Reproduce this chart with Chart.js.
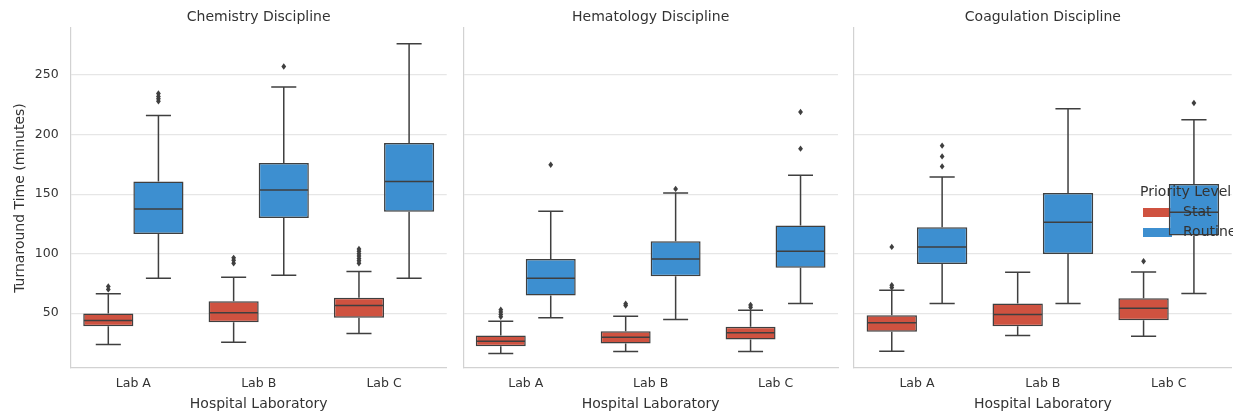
<!DOCTYPE html>
<html>
<head>
<meta charset="utf-8">
<script src="https://cdn.jsdelivr.net/npm/chart.js@4"></script>
<style>
  html, body { margin: 0; padding: 0; background: #ffffff; }
  body { width: 1235px; height: 417px; position: relative; overflow: hidden; }
  .facet { position: absolute; top: 0; height: 417px; }
</style>
</head>
<body>
<div class="facet" id="f1" style="left:0px;width:448px;"><canvas id="c1"></canvas></div>
<div class="facet" id="f2" style="left:462px;width:377px;"><canvas id="c2"></canvas></div>
<div class="facet" id="f3" style="left:853px;width:380px;"><canvas id="c3"></canvas></div>
<script>
// ---------------- DATA ----------------
const labs = ['Lab A', 'Lab B', 'Lab C'];
const disciplines = ['Chemistry Discipline', 'Hematology Discipline', 'Coagulation Discipline'];
const priorities = ['Stat', 'Routine'];
const yTicks = [50, 100, 150, 200, 250];

// five-number summaries per lab: [whisker low, Q1, median, Q3, whisker high]
const chemStat    = [[23.7, 39.1, 43.9, 49.7, 66.3], [25.7, 42.4, 50.3, 60.1, 80.2], [33.0, 46.1, 56.5, 62.9, 85.0]];
const chemRoutine = [[79.4, 116.6, 137.6, 160.7, 216.1], [81.9, 130.0, 153.5, 176.2, 240.0], [79.4, 135.1, 160.7, 193.0, 276.3]];
const hemStat     = [[16.2, 22.3, 26.5, 31.3, 43.3], [17.9, 24.6, 29.9, 34.9, 47.5], [17.9, 27.9, 33.6, 38.6, 52.5]];
const hemRoutine  = [[46.1, 64.8, 79.4, 95.6, 135.6], [44.7, 81.0, 95.6, 110.4, 151.0], [58.1, 88.1, 102.0, 123.6, 165.8]];
const coagStat    = [[18.1, 34.4, 42.0, 48.3, 69.3], [31.3, 39.1, 48.9, 58.1, 84.4], [30.7, 44.1, 54.2, 62.6, 84.7]];
const coagRoutine = [[58.1, 91.4, 105.7, 122.1, 164.4], [58.1, 99.8, 126.3, 151.0, 221.7], [66.5, 115.2, 134.7, 158.6, 212.5]];

// outliers per lab
const chemStatOut    = [[70, 72.5], [92, 94.5, 96.5], [92, 94, 96, 98, 100, 102, 104]];
const chemRoutineOut = [[228, 230, 232, 234.5], [257.2], []];
const hemStatOut     = [[47, 49, 51, 53], [56.5, 58], [55, 57]];
const hemRoutineOut  = [[174.7], [154.4], [188.2, 219]];
const coagStatOut    = [[71.5, 73.5, 105.7], [], [93.6]];
const coagRoutineOut = [[173.3, 181.7, 190.7], [], [226.5]];

// ---------------- STYLE ----------------
const FONT = "'DejaVu Sans', 'Liberation Sans', sans-serif";
const STAT_COLOR = '#cf5240';
const ROUTINE_COLOR = '#3d8fd0';
const LINE = '#3f3f3f';
const TEXT = '#333333';
const GRID = '#e6e6e6';
const SPINE = '#d2d2d2';
const Y_MIN = 4, Y_MAX = 289.5;

const boxExtras = {
  id: 'boxExtras',
  afterDatasetsDraw(chart) {
    const ctx = chart.ctx;
    const ys = chart.scales.y;
    chart.data.datasets.forEach((ds, di) => {
      const meta = chart.getDatasetMeta(di);
      meta.data.forEach((el, i) => {
        const s = ds.summary[i];
        const out = ds.outliers[i];
        const x = el.x, w = el.width;
        const cap = w * 0.25;
        const pLow = ys.getPixelForValue(s[0]);
        const pQ1 = ys.getPixelForValue(s[1]);
        const pMed = ys.getPixelForValue(s[2]);
        const pQ3 = ys.getPixelForValue(s[3]);
        const pHigh = ys.getPixelForValue(s[4]);
        ctx.save();
        ctx.strokeStyle = LINE;
        ctx.lineWidth = 1.5;
        ctx.beginPath();
        ctx.moveTo(x, pQ1); ctx.lineTo(x, pLow);
        ctx.moveTo(x, pQ3); ctx.lineTo(x, pHigh);
        ctx.moveTo(x - cap, pLow); ctx.lineTo(x + cap, pLow);
        ctx.moveTo(x - cap, pHigh); ctx.lineTo(x + cap, pHigh);
        ctx.moveTo(x - w / 2 + 0.75, pMed); ctx.lineTo(x + w / 2 - 0.75, pMed);
        ctx.stroke();
        ctx.fillStyle = LINE;
        out.forEach(v => {
          const py = ys.getPixelForValue(v);
          ctx.beginPath();
          ctx.moveTo(x, py - 3.2);
          ctx.lineTo(x + 2.4, py);
          ctx.lineTo(x, py + 3.2);
          ctx.lineTo(x - 2.4, py);
          ctx.closePath();
          ctx.fill();
        });
        ctx.restore();
      });
    });
  }
};

const legendPlugin = {
  id: 'priorityLegend',
  beforeDatasetsDraw(chart) {
    const ctx = chart.ctx;
    ctx.save();
    ctx.fillStyle = STAT_COLOR;
    ctx.fillRect(290, 208, 29, 9);
    ctx.fillStyle = ROUTINE_COLOR;
    ctx.fillRect(290, 228, 29, 9);
    ctx.restore();
  },
  afterDatasetsDraw(chart) {
    const ctx = chart.ctx;
    ctx.save();
    ctx.fillStyle = TEXT;
    ctx.textBaseline = 'middle';
    ctx.textAlign = 'left';
    ctx.font = "14px " + FONT;
    ctx.fillText('Priority Level', 287, 192);
    ctx.fillText(priorities[0], 330, 212.5);
    ctx.fillText(priorities[1], 330, 232.5);
    ctx.restore();
  }
};

function makeChart(canvasId, title, stat, routine, statOut, routineOut, opts) {
  const plugins = [boxExtras];
  if (opts.legend) plugins.push(legendPlugin);
  return new Chart(document.getElementById(canvasId), {
    type: 'bar',
    data: {
      labels: labs,
      datasets: [
        {
          label: priorities[0],
          data: stat.map(s => [s[1], s[3]]),
          summary: stat,
          outliers: statOut,
          backgroundColor: STAT_COLOR,
          borderColor: LINE,
          borderWidth: 1.5,
          borderSkipped: false,
          categoryPercentage: 0.8,
          barPercentage: 1.0
        },
        {
          label: priorities[1],
          data: routine.map(s => [s[1], s[3]]),
          summary: routine,
          outliers: routineOut,
          backgroundColor: ROUTINE_COLOR,
          borderColor: LINE,
          borderWidth: 1.5,
          borderSkipped: false,
          categoryPercentage: 0.8,
          barPercentage: 1.0
        }
      ]
    },
    options: {
      responsive: true,
      maintainAspectRatio: false,
      animation: false,
      layout: { padding: { left: 0, right: opts.padRight, top: 0, bottom: 0 } },
      plugins: {
        legend: { display: false },
        tooltip: { enabled: false },
        title: {
          display: true,
          text: title,
          fullSize: false,
          color: TEXT,
          font: { family: FONT, size: 14, weight: 'normal' },
          padding: { top: 8.6, bottom: 2.6 }
        }
      },
      scales: {
        x: {
          grid: { display: false, drawTicks: false },
          border: { display: true, color: SPINE, width: 1.2 },
          ticks: { color: TEXT, font: { family: FONT, size: 12.5 }, padding: 8.5 },
          title: {
            display: true,
            text: 'Hospital Laboratory',
            color: TEXT,
            font: { family: FONT, size: 14 },
            padding: { top: 0, bottom: 4.6 }
          },
          afterFit(scale) { scale.height = 49; }
        },
        y: {
          min: Y_MIN,
          max: Y_MAX,
          afterBuildTicks(scale) { scale.ticks = yTicks.map(v => ({ value: v })); },
          grid: { color: GRID, lineWidth: 1.2, drawTicks: false },
          border: { display: true, color: SPINE, width: 1.2 },
          ticks: {
            display: opts.showY,
            color: TEXT,
            font: { family: FONT, size: 12.5 },
            padding: 12
          },
          title: {
            display: opts.showY,
            text: 'Turnaround Time (minutes)',
            color: TEXT,
            font: { family: FONT, size: 14 },
            padding: { top: 11.6, bottom: 0 }
          },
          afterFit(scale) { scale.width = opts.yWidth; }
        }
      }
    },
    plugins: plugins
  });
}

makeChart('c1', disciplines[0], chemStat, chemRoutine, chemStatOut, chemRoutineOut,
  { showY: true, yWidth: 70.7, padRight: 1.3, legend: false });
makeChart('c2', disciplines[1], hemStat, hemRoutine, hemStatOut, hemRoutineOut,
  { showY: false, yWidth: 1.3, padRight: 1, legend: false });
makeChart('c3', disciplines[2], coagStat, coagRoutine, coagStatOut, coagRoutineOut,
  { showY: false, yWidth: 1, padRight: 1.3, legend: true });
</script>
</body>
</html>
